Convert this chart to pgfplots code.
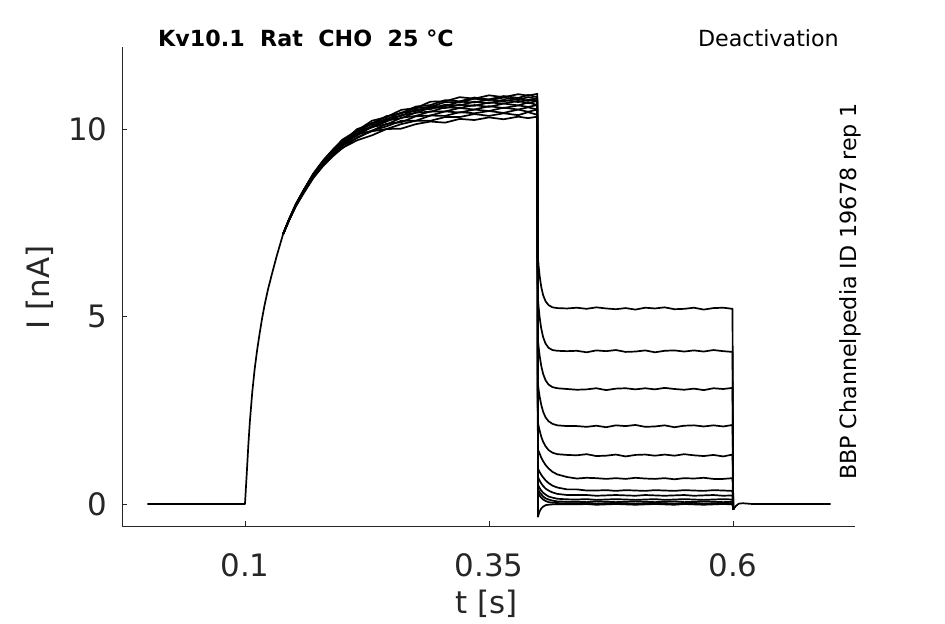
\documentclass[border=0pt]{standalone}
\usepackage{pgfplots}
\pgfplotsset{compat=1.18}
\usepackage{pgfplotstable}
\usepackage{fontspec}
\setmainfont{DejaVu Sans}
\definecolor{axgray}{HTML}{262626}

\pgfplotstableread{
t c1 c2 c3 c4 c5 c6 c7 c8 c9 c10 c11 c12
0.139 7.20 7.20 7.20 7.20 7.20 7.20 7.20 7.20 7.20 7.20 7.20 7.20
0.145 7.59 7.59 7.59 7.58 7.58 7.58 7.58 7.58 7.57 7.57 7.57 7.56
0.152 8.00 8.00 7.99 7.99 7.99 7.98 7.98 7.97 7.96 7.96 7.95 7.94
0.160 8.38 8.37 8.37 8.36 8.36 8.35 8.34 8.34 8.33 8.32 8.31 8.29
0.170 8.82 8.81 8.80 8.80 8.79 8.78 8.77 8.76 8.75 8.74 8.72 8.70
0.180 9.17 9.16 9.15 9.14 9.13 9.12 9.11 9.10 9.08 9.07 9.05 9.02
0.190 9.46 9.45 9.44 9.42 9.42 9.40 9.39 9.37 9.35 9.33 9.31 9.28
0.200 9.73 9.67 9.71 9.63 9.66 9.67 9.58 9.62 9.56 9.58 9.50 9.51
0.215 9.97 10.01 9.92 9.96 9.88 9.91 9.91 9.84 9.87 9.77 9.79 9.71
0.230 10.23 10.14 10.16 10.17 10.09 10.05 10.08 10.07 9.96 9.97 9.95 9.84
0.245 10.33 10.35 10.35 10.26 10.29 10.21 10.24 10.13 10.15 10.08 10.01 10.01
0.260 10.52 10.43 10.43 10.45 10.36 10.38 10.30 10.31 10.19 10.23 10.14 10.02
0.275 10.57 10.61 10.57 10.49 10.53 10.44 10.45 10.36 10.35 10.23 10.23 10.14
0.290 10.74 10.65 10.60 10.62 10.54 10.58 10.47 10.48 10.37 10.37 10.23 10.21
0.305 10.75 10.78 10.73 10.62 10.66 10.57 10.59 10.48 10.48 10.36 10.33 10.18
0.320 10.86 10.75 10.72 10.74 10.64 10.66 10.57 10.57 10.45 10.46 10.33 10.28
0.335 10.82 10.85 10.82 10.72 10.74 10.63 10.65 10.53 10.53 10.43 10.41 10.25
0.350 10.91 10.80 10.78 10.80 10.70 10.72 10.60 10.62 10.49 10.49 10.36 10.32
0.365 10.86 10.89 10.85 10.75 10.79 10.69 10.69 10.57 10.58 10.44 10.43 10.27
0.380 10.94 10.84 10.79 10.82 10.73 10.76 10.64 10.64 10.53 10.53 10.38 10.34
0.390 10.90 10.92 10.86 10.76 10.79 10.70 10.72 10.60 10.59 10.47 10.46 10.30
0.3995 10.95 10.86 10.81 10.83 10.75 10.76 10.65 10.65 10.53 10.53 10.39 10.34
0.4002 6.55 5.46 4.36 3.19 2.17 1.46 0.95 0.72 0.51 0.40 0.31 -0.34
0.4010 6.31 5.21 4.15 3.02 2.06 1.40 0.90 0.67 0.47 0.36 0.27 -0.26
0.4020 6.07 4.96 3.94 2.85 1.95 1.34 0.85 0.62 0.42 0.31 0.22 -0.19
0.4035 5.80 4.69 3.69 2.65 1.80 1.24 0.78 0.55 0.36 0.26 0.17 -0.12
0.4055 5.57 4.45 3.47 2.46 1.66 1.14 0.71 0.48 0.30 0.20 0.12 -0.07
0.4080 5.41 4.28 3.30 2.31 1.54 1.04 0.63 0.41 0.25 0.15 0.08 -0.03
0.4110 5.31 4.17 3.19 2.21 1.44 0.95 0.56 0.36 0.20 0.12 0.05 -0.02
0.4150 5.25 4.11 3.12 2.14 1.37 0.86 0.49 0.31 0.17 0.09 0.035 -0.01
0.4200 5.23 4.09 3.09 2.10 1.33 0.79 0.44 0.27 0.14 0.07 0.025 -0.01
0.4300 5.22 4.08 3.07 2.08 1.31 0.72 0.39 0.24 0.125 0.06 0.02 -0.01
0.44 5.24 4.09 3.05 2.08 1.30 0.68 0.39 0.24 0.12 0.06 0.02 -0.01
0.45 5.21 4.05 3.06 2.06 1.33 0.70 0.36 0.24 0.13 0.05 0.03 0
0.46 5.25 4.10 3.09 2.09 1.28 0.69 0.36 0.22 0.11 0.07 0.01 -0.02
0.47 5.22 4.08 3.04 2.05 1.29 0.67 0.37 0.23 0.12 0.06 0.02 -0.01
0.48 5.20 4.11 3.08 2.10 1.32 0.69 0.35 0.24 0.13 0.05 0.03 0
0.49 5.23 4.06 3.09 2.08 1.27 0.67 0.37 0.23 0.12 0.06 0.02 -0.01
0.50 5.19 4.07 3.06 2.11 1.31 0.70 0.36 0.22 0.11 0.07 0.01 -0.02
0.51 5.24 4.10 3.09 2.06 1.32 0.68 0.35 0.24 0.12 0.06 0.02 -0.01
0.52 5.22 4.05 3.06 2.07 1.29 0.67 0.37 0.23 0.13 0.05 0.03 0
0.53 5.25 4.09 3.10 2.10 1.32 0.69 0.36 0.22 0.11 0.06 0.02 -0.01
0.54 5.20 4.10 3.07 2.05 1.29 0.66 0.35 0.23 0.12 0.07 0.01 -0.02
0.55 5.21 4.07 3.05 2.09 1.33 0.69 0.37 0.24 0.13 0.05 0.02 0
0.56 5.24 4.10 3.08 2.10 1.30 0.68 0.36 0.22 0.12 0.06 0.03 -0.01
0.57 5.19 4.07 3.04 2.07 1.28 0.70 0.35 0.23 0.11 0.07 0.01 -0.02
0.58 5.23 4.11 3.09 2.10 1.31 0.67 0.37 0.24 0.12 0.06 0.02 -0.01
0.59 5.24 4.08 3.07 2.07 1.27 0.67 0.36 0.22 0.13 0.05 0.03 0
0.5995 5.21 4.06 3.10 2.11 1.32 0.69 0.35 0.23 0.12 0.06 0.02 -0.01
0.6002 -0.15 -0.15 -0.15 -0.15 -0.15 -0.15 -0.15 -0.15 -0.15 -0.15 -0.15 -0.15
}\traces

\begin{document}
\begin{tikzpicture}[x=1bp,y=1bp]
\path[use as bounding box] (0,0) rectangle (945,624);
\begin{axis}[
  at={(122bp,98bp)}, anchor=south west,
  scale only axis, width=733bp, height=479bp,
  xmin=-0.026, xmax=0.725, ymin=-0.587, ymax=12.2,
  axis x line*=bottom, axis y line*=left,
  axis line style={axgray, line width=0.9bp, -},
  xtick={0.1,0.35,0.6}, xticklabels={0.1,0.35,0.6},
  ytick={0,5,10}, yticklabels={0,5,10},
  tick align=inside, major tick length=5bp,
  tick style={axgray, line width=0.9bp},
  ticklabel style={font=\fontsize{31}{37}\selectfont, text=axgray, inner sep=0pt},
  xticklabel style={anchor=center, yshift=-39bp},
  yticklabel style={anchor=east, xshift=-14.5bp},
  cycle list={{black,solid}},
  every axis plot/.append style={line width=1.7bp, line join=round, no markers},
]
\addplot coordinates {(0,0) (0.05,0) (0.0999,0) (0.1,0) (0.101,0.45) (0.102,0.9) (0.1035,1.6) (0.105,2.2) (0.1075,3.0) (0.110,3.62) (0.1125,4.12) (0.115,4.55) (0.1175,4.95) (0.120,5.3) (0.1235,5.72) (0.127,6.08) (0.1325,6.62) (0.139,7.2)};
\pgfplotsinvokeforeach{1,...,12}{\addplot table[x=t,y=c#1]{\traces};}
\addplot coordinates {(0.6002,-0.15) (0.601,-0.12) (0.603,-0.05) (0.606,0.01) (0.61,0.02) (0.62,0) (0.65,0) (0.7,0)};
\end{axis}
\node[anchor=base west, inner sep=0pt, font=\fontsize{22.3}{27}\selectfont\bfseries] at (158,577) {Kv10.1\ \ Rat\ \ CHO\ \ 25 °C};
\node[anchor=base east, inner sep=0pt, font=\fontsize{22.3}{27}\selectfont] at (839,577) {Deactivation};
\node[rotate=90, anchor=base, inner sep=0pt, font=\fontsize{22.3}{27}\selectfont] at (856,332.5) {BBP Channelpedia ID 19678 rep 1};
\node[rotate=90, anchor=base, inner sep=0pt, text=axgray, font=\fontsize{31}{37}\selectfont] at (49,336.5) {I [nA]};
\node[anchor=base, inner sep=0pt, text=axgray, font=\fontsize{31}{37}\selectfont] at (486.5,10) {t [s]};
\end{tikzpicture}
\end{document}
